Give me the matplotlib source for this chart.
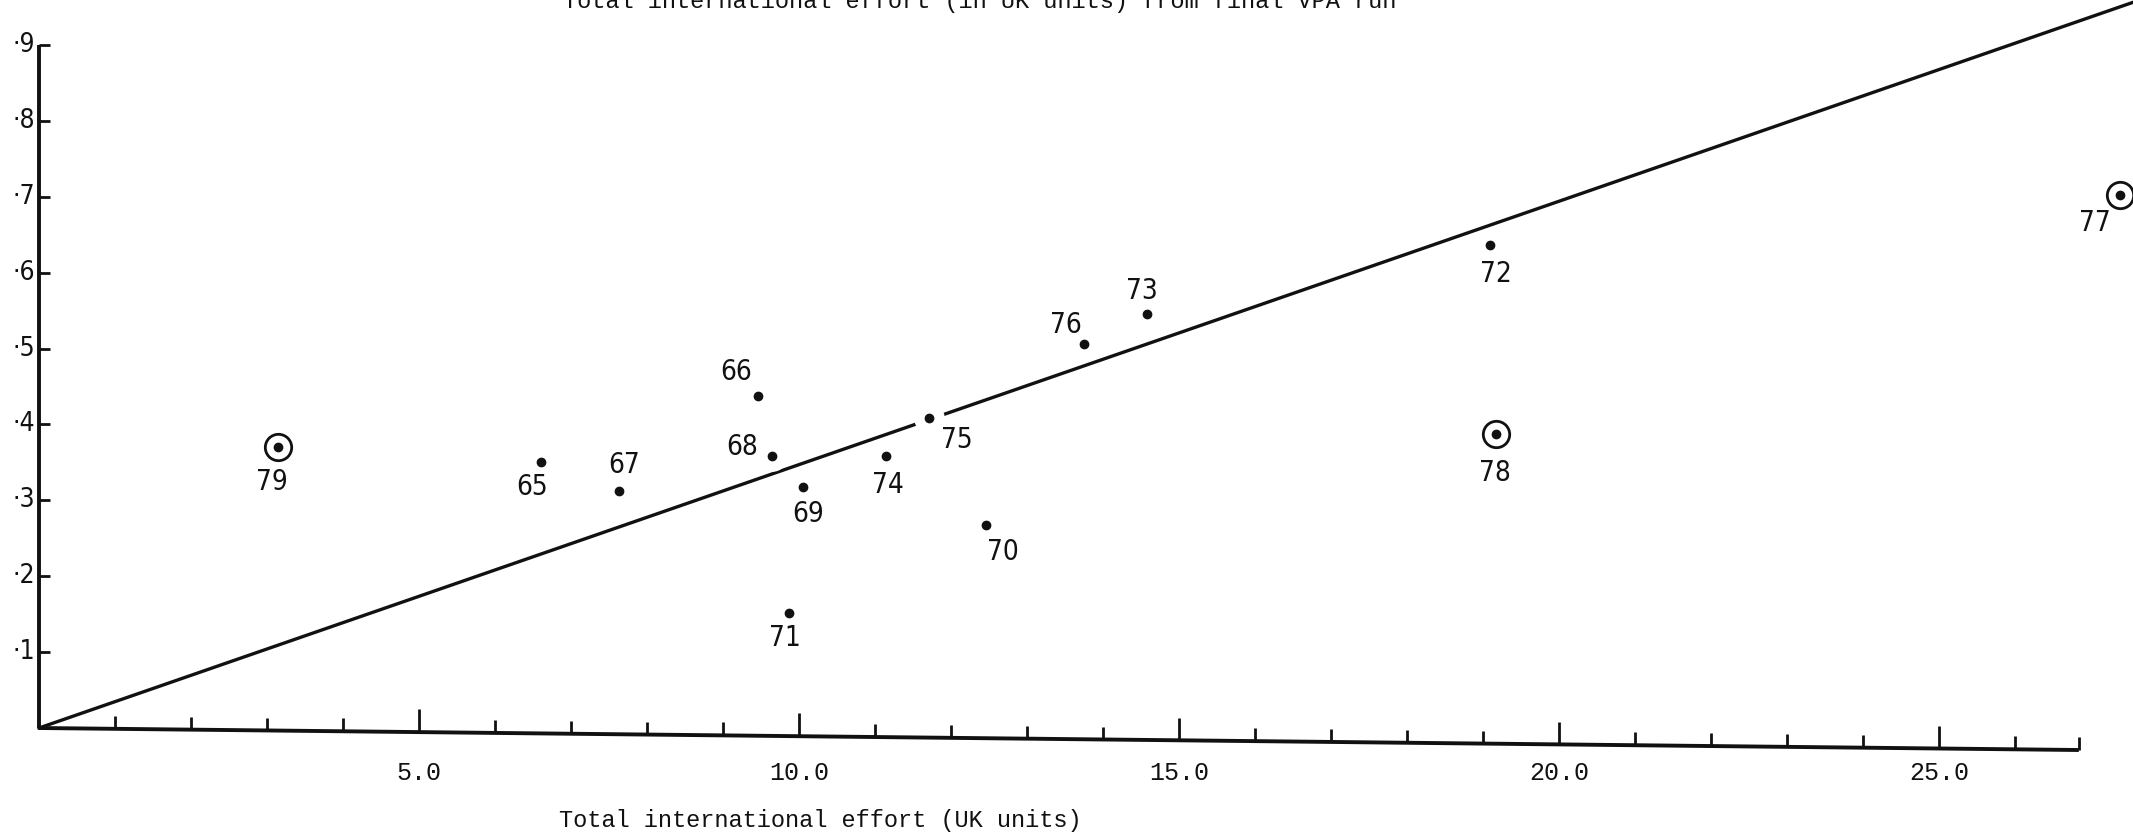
import matplotlib
matplotlib.use("Agg")
import matplotlib.pyplot as plt

# Fishing mortality against total international effort, by year
years = ["65", "66", "67", "68", "69", "70", "71", "72", "73", "74", "75", "76", "77", "78", "79"]
effort = [6.61, 9.46, 7.63, 9.64, 10.05, 12.46, 9.87, 19.09, 14.58, 11.14, 11.71, 13.75, 27.38, 19.17, 3.14]
mortality = [0.350, 0.438, 0.312, 0.359, 0.318, 0.267, 0.151, 0.637, 0.545, 0.359, 0.409, 0.506, 0.702, 0.387, 0.370]
circled = ["77", "78", "79"]

# fitted line through the origin
SLOPE = 0.0347

x_major = [5, 10, 15, 20, 25]
x_major_labels = ["5.0", "10.0", "15.0", "20.0", "25.0"]
x_minor = [1, 2, 3, 4, 6, 7, 8, 9, 11, 12, 13, 14, 16, 17, 18, 19, 21, 22, 23, 24, 26]
y_ticks = [0.1, 0.2, 0.3, 0.4, 0.5, 0.6, 0.7, 0.8, 0.9]
y_tick_labels = ["·1", "·2", "·3", "·4", "·5", "·6", "·7", "·8", "·9"]

X_END = 26.84       # where the hand-drawn x axis stops
AXIS_DROP = 0.029   # the x axis runs slightly downhill to the right

# label offsets in points (dx, dy) for each year
offsets = {
    "65": (-7, -18), "66": (-16, 17), "67": (4, 19), "68": (-21, 6), "69": (4, -20),
    "70": (12, -19), "71": (-3, -18), "72": (4, -21), "73": (-4, 17), "74": (2, -21),
    "75": (20, -16), "76": (-13, 14), "77": (-18, -20), "78": (-1, -28), "79": (-4, -25),
}

W, H = 2133, 835
ORIGIN = (39, 728)
PX_X = 76.0    # pixels per effort unit
PX_Y = 759.0   # pixels per unit of F

fig = plt.figure(figsize=(W / 100, H / 100), dpi=100)
ax = fig.add_axes([0, 0, 1, 1])
ax.set_xlim(-ORIGIN[0] / PX_X, (W - ORIGIN[0]) / PX_X)
ax.set_ylim(-(H - ORIGIN[1]) / PX_Y, ORIGIN[1] / PX_Y)
ax.axis("off")

mono = "Liberation Mono"
ink = "#111111"

# axes
ax.plot([0, 0], [0, 0.9], color=ink, lw=2.8, solid_capstyle="butt")
ax.plot([0, X_END], [0, -AXIS_DROP], color=ink, lw=2.8, solid_capstyle="butt")
ax.hlines(y_ticks, 0, 0.15, color=ink, lw=2.0)
for i, lab in enumerate(y_tick_labels):
    ax.text(-0.05, y_ticks[i], lab, ha="right", va="center", fontsize=19,
            family="DejaVu Sans", fontstretch="condensed", color=ink)


def base(x):
    return -AXIS_DROP * x / X_END


for t in x_minor + [X_END]:
    ax.vlines(t, base(t), base(t) + 0.017, color=ink, lw=2.0)
for t, lab in zip(x_major, x_major_labels):
    ax.vlines(t, base(t), base(t) + 0.030, color=ink, lw=2.0)
    ax.text(t, -0.059, lab, ha="center", va="center", fontsize=18, family=mono, color=ink)

ax.text(10.28, -0.122, "Total international effort (UK units)", ha="center", va="center",
        fontsize=17, family=mono, color=ink)
fig.text(980 / W, 1 - 8 / H, "Total international effort (in UK units) from final VPA run",
         ha="center", va="baseline", fontsize=17, family=mono, color=ink)

# regression line
xs = [0, 28.5]
ax.plot(xs, [SLOPE * v for v in xs], color=ink, lw=2.4, zorder=2)

# points
for yr, x, y in zip(years, effort, mortality):
    ax.plot(x, y, "o", ms=21, color="white", zorder=3)
    ax.plot(x, y, "o", ms=6, color=ink, zorder=4)
    if yr in circled:
        ax.plot(x, y, "o", ms=19, mfc="none", mec=ink, mew=2.0, zorder=4)
    dx, dy = offsets[yr]
    ax.annotate(yr, (x, y), xytext=(dx, dy), textcoords="offset points",
                ha="center", va="center", fontsize=20, family="DejaVu Sans",
                fontstretch="condensed", color=ink, zorder=5)

fig.savefig("out.png", dpi=100, facecolor="white")
